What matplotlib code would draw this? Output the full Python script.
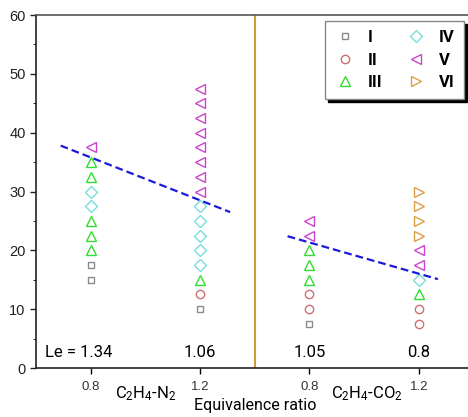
import matplotlib
matplotlib.use("Agg")
import matplotlib.pyplot as plt
from matplotlib import font_manager

# x positions on one shared axis: C2H4-N2 at 0.8/1.2, C2H4-CO2 at 1.6/2.0
x_pos = [0.8, 1.2, 1.6, 2.0]
tick_labels = ["0.8", "1.2", "0.8", "1.2"]
le_values = ["Le = 1.34", "1.06", "1.05", "0.8"]

# y values of each regime per x position
reg_I = {0.8: [15, 17.5], 1.2: [10], 1.6: [7.5], 2.0: []}
reg_II = {0.8: [], 1.2: [12.5], 1.6: [10, 12.5], 2.0: [7.5, 10]}
reg_III = {0.8: [20, 22.5, 25, 32.5, 35], 1.2: [15], 1.6: [15, 17.5, 20], 2.0: [12.5]}
reg_IV = {0.8: [27.5, 30], 1.2: [17.5, 20, 22.5, 25, 27.5], 1.6: [], 2.0: [15]}
reg_V = {0.8: [37.5], 1.2: [30, 32.5, 35, 37.5, 40, 42.5, 45, 47.5],
         1.6: [22.5, 25], 2.0: [17.5, 20]}
reg_VI = {0.8: [], 1.2: [], 1.6: [], 2.0: [22.5, 25, 27.5, 30]}

# dashed trend lines (endpoints)
trend_n2_x = [0.69, 1.31]
trend_n2_y = [37.8, 26.5]
trend_co2_x = [1.52, 2.07]
trend_co2_y = [22.4, 15.1]

regimes = [
    ("I", reg_I, "s", "#8a8a8a", 5),
    ("II", reg_II, "o", "#cc7070", 6),
    ("III", reg_III, "^", "#33dd33", 7),
    ("IV", reg_IV, "D", "#77dddd", 6),
    ("V", reg_V, "<", "#cc44cc", 7),
    ("VI", reg_VI, ">", "#d9a048", 7),
]

names = {f.name for f in font_manager.fontManager.ttflist}
narrow = "Liberation Sans Narrow" if "Liberation Sans Narrow" in names else "Roboto"

plt.rcParams["font.family"] = ["Liberation Sans", "DejaVu Sans"]
plt.rcParams["mathtext.fontset"] = "custom"
plt.rcParams["mathtext.rm"] = narrow
plt.rcParams["mathtext.it"] = narrow

fig = plt.figure(figsize=(4.68, 4.17), dpi=100)
ax = fig.add_axes([0.077, 0.1175, 0.923, 0.8465])

for name, data, mk, col, ms in regimes:
    xs, ys = [], []
    for x in x_pos:
        for y in data[x]:
            xs.append(x)
            ys.append(y)
    ax.plot(xs, ys, linestyle="none", marker=mk, markersize=ms,
            markerfacecolor="none", markeredgecolor=col, markeredgewidth=1.0,
            label=name)

ax.plot(trend_n2_x, trend_n2_y, color="#1a1adb", linewidth=1.6, dashes=(3.5, 1.8))
ax.plot(trend_co2_x, trend_co2_y, color="#1a1adb", linewidth=1.6, dashes=(3.5, 1.8))

ax.axvline(1.4, color="#d49a3a", linewidth=1.5)

le_x = [0.757, 1.2, 1.6, 2.0]
for x, txt in zip(le_x, le_values):
    ax.text(x, 2.6, txt, ha="center", va="center", fontsize=12, family=[narrow, "DejaVu Sans"])

ax.set_xlim(0.6, 2.18)
ax.set_ylim(0, 60)
ax.set_xticks(x_pos)
ax.set_xticklabels(tick_labels, fontsize=9.5, color="#333333")
ax.set_yticks(range(0, 61, 10))
ax.set_yticks(range(5, 60, 10), minor=True)
ax.tick_params(axis="y", labelsize=10.5, colors="#222222", length=4, width=1)
ax.tick_params(axis="y", which="minor", length=2.5)
ax.tick_params(axis="x", length=4, width=1, pad=5)
for s in ["left", "bottom", "top"]:
    ax.spines[s].set_linewidth(1.2)
    ax.spines[s].set_color("#222222")
ax.spines["top"].set_color("#555555")
ax.spines["right"].set_visible(False)

lab_font = [narrow, "DejaVu Sans"]
ax.text(1.0, -4.3, r"C$_2$H$_4$-N$_2$", ha="center", va="center", fontsize=12,
        family=lab_font, clip_on=False)
ax.text(1.81, -4.3, r"C$_2$H$_4$-CO$_2$", ha="center", va="center", fontsize=12,
        family=lab_font, clip_on=False)
ax.text(1.40, -6.4, "Equivalence ratio", ha="center", va="center", fontsize=11.5,
        family=lab_font, clip_on=False)

leg = ax.legend(loc="upper right", bbox_to_anchor=(0.991, 0.983), ncol=2,
                fancybox=False, shadow={"color": "black", "alpha": 1},
                edgecolor="#888888", framealpha=1,
                prop={"family": narrow, "weight": "bold", "size": 12},
                handletextpad=0.8, columnspacing=1.4, labelspacing=0.45,
                borderpad=0.55, handlelength=1.2, borderaxespad=0)

fig.savefig("out.png", dpi=100)
